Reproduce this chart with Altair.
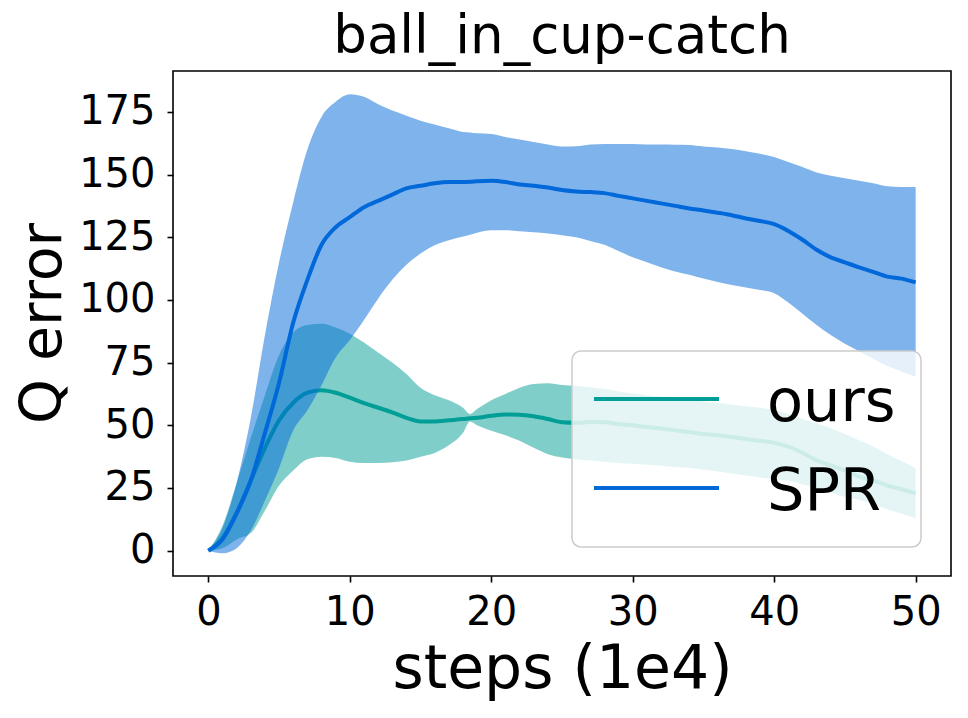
import altair as alt
import pandas as pd

steps = list(range(0, 19)) + [18.5] + list(range(19, 51))

spr_mean = [0, 4.5, 15, 28, 47, 67, 91, 108, 122, 129, 133, 137, 139.5, 142, 144.5, 145.5, 146.5, 147, 147,
            147.1,
            147.3, 147.5, 147, 146, 145.5, 144.8, 143.8, 143.2, 143, 142.6, 141.5, 140.5, 139.5, 138.5, 137.5, 136.5,
            135.7, 134.8, 133.8, 132.5, 131.5, 130.2, 127.5, 124, 120, 117, 115, 113, 111.2, 109.3, 108.5, 107]
spr_hi = [0, 9, 27, 53, 86, 115, 139, 160, 173, 179, 182, 181, 178, 175.5, 173.5, 171.5, 170, 168.5, 167,
          166.8,
          166.5, 166.2, 165, 164, 163, 162, 161.2, 161.3, 162, 162.2, 162.2, 162.2, 162, 162, 161.9, 161.8,
          161.2, 160.8, 160.2, 159.3, 158.3, 157, 155, 153, 150.8, 149.5, 148.5, 147.5, 146.5, 145.3, 145, 145]
spr_lo = [0, -1, 1, 8, 20, 33, 48, 56, 66, 77, 84, 92, 100.5, 108, 114, 118.5, 121.8, 123.8, 125.3,
          126,
          126.8, 127.8, 127.8, 127.4, 127, 126.5, 125.8, 125, 123.5, 122, 119.5, 117, 115, 113, 111.3, 110,
          108.5, 107.2, 106, 105, 104, 102.7, 99, 94.5, 90, 86, 82.5, 79.5, 76.5, 73.7, 71.5, 69.4]

ours_mean = [0, 5, 15, 28, 41, 52, 59, 63, 64, 63, 61, 58.8, 57, 55.2, 53, 51.5, 51.5, 52, 52.5,
             52.8,
             53, 53.8, 54.3, 54.2, 53.6, 52.5, 51.2, 51, 51.3, 51.2, 50.5, 50, 49.3, 48.7, 48, 47.3,
             46.5, 46, 45.3, 44.5, 43.8, 43, 41.5, 39, 36, 34, 32, 29.5, 28, 26, 24.5, 22.9]
ours_hi = [0, 10, 27, 45, 62, 78, 87, 90, 90.5, 89, 86.5, 83, 79, 75, 70.5, 65, 62, 60, 57,
           54.5,
           56.5, 60, 62.5, 65, 66.5, 66.8, 66.1, 65.8, 65.2, 64.6, 63.5, 62.8, 62, 61.4, 60.8, 60.2,
           59.5, 59, 58.3, 57.6, 57, 56.2, 54.5, 52.5, 50.8, 48.8, 46.5, 44, 41.5, 38.5, 35.8, 32.9]
ours_lo = [0, 1, 4.5, 7, 16, 26, 32, 36.5, 37.5, 37, 35.5, 35, 35, 35.3, 36, 37.5, 39, 42, 47,
           51.5,
           50, 47.8, 46, 43.8, 41, 38.5, 37.2, 36.5, 36, 35.5, 35, 34.7, 34.3, 33.9, 33.4, 33,
           32.3, 31.6, 30.8, 30, 29.2, 28.5, 27.9, 26.5, 25, 23.2, 21.5, 20.2, 18.5, 16.5, 14.7, 12.9]

methods = ["ours", "SPR"]
colors = ["#009E96", "#0068D9"]

rows = []
for name, m, lo, hi in [("ours", ours_mean, ours_lo, ours_hi), ("SPR", spr_mean, spr_lo, spr_hi)]:
    for s, a, b, c in zip(steps, m, lo, hi):
        rows.append({"step": s, "mean": a, "lo": b, "hi": c, "method": name})
df = pd.DataFrame(rows)

xscale = alt.Scale(domain=[-2.5, 52.5], nice=False, zero=False)
yscale = alt.Scale(domain=[-10.1, 191.3], nice=False, zero=False)

xaxis = alt.Axis(values=[0, 10, 20, 30, 40, 50], title="steps (1e4)", grid=False,
                 titleX=389, titleY=111, titleBaseline="alphabetic", titleAnchor="middle",
                 titleFontSize=60, labelPadding=10)
yaxis = alt.Axis(values=[0, 25, 50, 75, 100, 125, 150, 175], title="Q error", grid=False,
                 titleX=-113, titleY=252, titleBaseline="alphabetic", titleAngle=-90, titleAnchor="middle",
                 titleFontSize=57, labelPadding=12)

base = alt.Chart(df)


def band(name, color):
    return base.transform_filter(alt.datum.method == name).mark_area(
        color=color, opacity=0.5, interpolate="monotone").encode(
        x=alt.X("step:Q", scale=xscale, axis=xaxis),
        y=alt.Y("lo:Q", scale=yscale, axis=yaxis),
        y2="hi:Q",
    )


def line(name, color):
    return base.transform_filter(alt.datum.method == name).mark_line(
        strokeWidth=4, color=color, interpolate="monotone").encode(
        x=alt.X("step:Q", scale=xscale, axis=xaxis),
        y=alt.Y("mean:Q", scale=yscale, axis=yaxis),
    )


# legend (drawn inside the plot, lower right, semi-transparent white box)
leg = alt.Chart(pd.DataFrame({"label": methods, "color": colors, "ly": [328, 417], "ty": [350, 439]}))
leg_box = alt.Chart(pd.DataFrame({"k": [0]})).mark_rect(
    fill="white", fillOpacity=0.8, stroke="#cccccc", strokeWidth=1.5, cornerRadius=9
).encode(x=alt.value(399), x2=alt.value(748), y=alt.value(280), y2=alt.value(476))
leg_lines = leg.mark_rule(strokeWidth=4).encode(
    x=alt.value(421), x2=alt.value(546),
    y=alt.Y("ly:Q", scale=None),
    color=alt.Color("color:N", scale=None),
)
leg_text = leg.mark_text(align="left", baseline="alphabetic", fontSize=59, font="DejaVu Sans",
                         color="black").encode(
    x=alt.value(594), y=alt.Y("ty:Q", scale=None), text="label:N"
)

chart = alt.layer(
    band("ours", colors[0]), line("ours", colors[0]),
    band("SPR", colors[1]), line("SPR", colors[1]),
    leg_box, leg_lines, leg_text,
).properties(
    width=778, height=505,
    title=alt.Title("ball_in_cup-catch", fontSize=53, font="DejaVu Sans", fontWeight="normal",
                    color="black", offset=7, anchor="middle"),
    autosize=alt.AutoSizeParams(type="none"),
    padding={"left": 165, "top": 63, "right": 9, "bottom": 134},
).configure_view(stroke="black", strokeWidth=1.6).configure_axis(
    domain=False, tickColor="black", tickWidth=1.6, tickSize=6,
    labelFont="DejaVu Sans", labelFontSize=40, labelColor="black",
    titleFont="DejaVu Sans", titleFontWeight="normal", titleColor="black",
)

chart.save("out.html", embed_options={"renderer": "svg", "actions": False})
